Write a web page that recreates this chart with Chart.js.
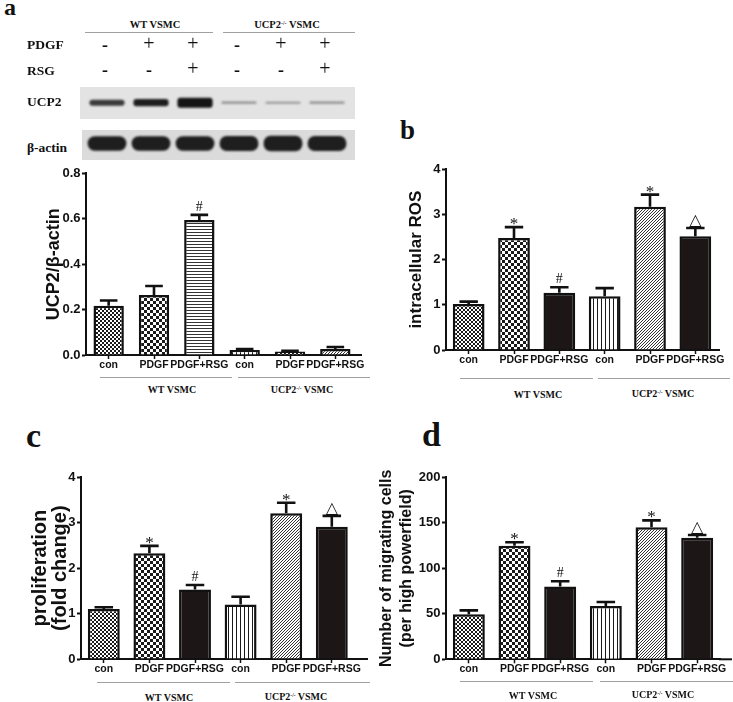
<!DOCTYPE html>
<html>
<head>
<meta charset="utf-8">
<script src="https://cdn.jsdelivr.net/npm/chart.js@4.4.0/dist/chart.umd.min.js"></script>
<style>
body { margin: 0; background: #fff; }
#fig { position: relative; width: 733px; height: 702px; overflow: hidden; background: #fff; }
#fig canvas { position: absolute; }
.t { position: absolute; white-space: nowrap; line-height: 1; color: #111; }
.serif { font-family: "Liberation Serif", "DejaVu Serif", serif; font-weight: bold; }
.plain { font-family: "Liberation Serif", "DejaVu Serif", serif; font-weight: normal; }
.hl { position: absolute; height: 1px; background: #a0a0a0; }
.box { position: absolute; }
sup { font-size: 0.55em; vertical-align: 0.6em; line-height: 0; }
</style>
</head>
<body>
<div id="fig">
  <div class="box" style="left:80px;top:87px;width:275px;height:32px;background:#e3e3e3"></div>
  <div class="box" style="left:82px;top:130px;width:273px;height:30px;background:#dbdbdb"></div>
  <canvas id="blot"></canvas>
  <canvas id="chartA"></canvas>
  <canvas id="chartB"></canvas>
  <canvas id="chartC"></canvas>
  <canvas id="chartD"></canvas>
</div>
<script>
// categories and groups
const categories = ['con', 'PDGF', 'PDGF+RSG', 'con', 'PDGF', 'PDGF+RSG'];
const groups = ['WT VSMC', 'UCP2-/- VSMC'];
const pdgfRow = ['-', '+', '+', '-', '+', '+'];
const rsgRow = ['-', '-', '+', '-', '-', '+'];

// western blot band strength (0..1)
const ucp2Band = [0.55, 0.7, 1.0, 0.13, 0.1, 0.13];
const actinBand = [0.95, 0.95, 0.95, 1.0, 1.05, 1.0];

// a: UCP2/beta-actin
const ucp2Ratio = [0.217, 0.264, 0.594, 0.022, 0.015, 0.026];
const ucp2RatioErr = [0.023, 0.040, 0.023, 0.004, 0.003, 0.009];
// b: intracellular ROS
const rosValues = [1.02, 2.48, 1.27, 1.19, 3.17, 2.52];
const rosErr = [0.05, 0.24, 0.12, 0.18, 0.27, 0.18];
// c: proliferation
const prolifValues = [1.10, 2.33, 1.53, 1.20, 3.21, 2.91];
const prolifErr = [0.04, 0.16, 0.10, 0.17, 0.23, 0.24];
// d: migrating cells
const migrationValues = [49.5, 124.9, 79.9, 58.6, 145, 133.7];
const migrationErr = [4.3, 3.7, 5.8, 4.4, 7.7, 2.9];

const marksA = ['', '', '#', '', '', ''];
const marksBCD = ['', '*', '#', '', '*', '\u25B3'];

const SANS = '"Liberation Sans", Arial, sans-serif';
const fig = document.getElementById('fig');

function place(html, x, base, size, align, cls) {
    const s = document.createElement('span');
    s.className = 't ' + (cls || 'serif');
    s.innerHTML = html;
    s.style.fontSize = size + 'px';
    s.style.top = (base - 0.84 * size) + 'px';
    s.style.left = x + 'px';
    if (align === 'center') s.style.transform = 'translateX(-50%)';
    fig.appendChild(s);
}

function hline(x1, x2, y) {
    const d = document.createElement('div');
    d.className = 'hl';
    d.style.left = x1 + 'px';
    d.style.top = y + 'px';
    d.style.width = (x2 - x1) + 'px';
    fig.appendChild(d);
}

function groupHtml(g) {
    return g.replace('-/-', '<sup>-/-</sup>');
}

function setupCanvas(id, box) {
    const cv = document.getElementById(id);
    cv.width = box.w;
    cv.height = box.h;
    cv.style.left = box.x + 'px';
    cv.style.top = box.y + 'px';
    return cv;
}

// fill patterns
function makePattern(size, draw) {
    const c = document.createElement('canvas');
    c.width = size;
    c.height = size;
    const g = c.getContext('2d');
    g.fillStyle = '#fff';
    g.fillRect(0, 0, size, size);
    g.fillStyle = '#1a1a1a';
    draw(g);
    return g.createPattern(c, 'repeat');
}
const fineCheck = makePattern(4, g => { g.fillRect(0, 0, 2, 2); g.fillRect(2, 2, 2, 2); });
const coarseCheck = makePattern(6, g => { g.fillRect(0, 0, 3, 3); g.fillRect(3, 3, 3, 3); });
const hLines = makePattern(3, g => { g.fillStyle = '#333'; g.fillRect(0, 0, 3, 1); });
const vLines = makePattern(4, g => { g.fillRect(0, 0, 1, 4); });
const diag = makePattern(3, g => { g.fillStyle = '#333'; g.fillRect(2, 0, 1, 1); g.fillRect(1, 1, 1, 1); g.fillRect(0, 2, 1, 1); });
const solid = '#1c1616';

const markStyle = {
    '*': { font: '17px "Liberation Serif", serif', dy: 2 },
    '#': { font: '14px "Liberation Serif", serif', dy: -4 },
    '\u25B3': { font: '16px "DejaVu Sans", sans-serif', dy: -3 }
};

// error bars, significance marks and the long x axis line
const errorBars = {
    id: 'errorBars',
    afterDatasetsDraw(chart, args, opts) {
        const ds = chart.data.datasets[0];
        const meta = chart.getDatasetMeta(0);
        const y = chart.scales.y;
        const ctx = chart.ctx;
        ctx.save();
        ctx.strokeStyle = '#111';
        ctx.fillStyle = '#111';
        ctx.lineWidth = 2.6;
        meta.data.forEach((bar, i) => {
            const top = y.getPixelForValue(ds.data[i] + opts.err[i]);
            const half = bar.width * 0.29;
            ctx.beginPath();
            ctx.moveTo(bar.x, bar.y);
            ctx.lineTo(bar.x, top);
            ctx.moveTo(bar.x - half, top);
            ctx.lineTo(bar.x + half, top);
            ctx.stroke();
            const m = opts.marks[i];
            if (m) {
                ctx.font = markStyle[m].font;
                ctx.textAlign = 'center';
                ctx.textBaseline = 'alphabetic';
                ctx.fillText(m, bar.x, top + markStyle[m].dy);
            }
        });
        const a = chart.chartArea;
        ctx.lineWidth = 2;
        ctx.beginPath();
        ctx.moveTo(a.right - 1, a.bottom);
        ctx.lineTo(opts.axisTo, a.bottom);
        ctx.stroke();
        ctx.restore();
    }
};

function barPanel(id, box, area, cfg) {
    const cv = setupCanvas(id, box);
    return new Chart(cv, {
        type: 'bar',
        data: {
            labels: categories,
            datasets: [{
                data: cfg.values,
                backgroundColor: cfg.fills,
                borderColor: '#111',
                borderWidth: 2.5,
                barPercentage: cfg.barPct,
                categoryPercentage: 1
            }]
        },
        options: {
            responsive: false,
            animation: false,
            events: [],
            layout: { padding: { top: area.t - box.y, right: box.x + box.w - area.r, left: 0, bottom: 0 } },
            plugins: {
                legend: { display: false },
                tooltip: { enabled: false },
                errorBars: { err: cfg.err, marks: cfg.marks, axisTo: cfg.axisTo - box.x }
            },
            scales: {
                x: {
                    z: 1,
                    grid: { display: true, drawOnChartArea: false, offset: false, tickLength: 4, tickWidth: 1.5, color: '#111' },
                    border: { display: true, width: 2, color: '#111' },
                    ticks: { font: { family: SANS, size: 10.5, weight: 'bold' }, color: '#111', padding: 0, maxRotation: 0, autoSkip: false },
                    afterFit: s => { s.height = box.y + box.h - area.b; }
                },
                y: {
                    min: 0,
                    max: cfg.max,
                    ticks: {
                        stepSize: cfg.step,
                        font: { family: SANS, size: 13, weight: 'bold' },
                        color: '#111',
                        padding: 1.5,
                        callback: v => cfg.fmt(v)
                    },
                    grid: { drawOnChartArea: false, tickLength: 4, tickWidth: 2, color: '#111' },
                    border: { width: 2, color: '#111' },
                    title: {
                        display: true,
                        text: cfg.title,
                        color: '#111',
                        font: { family: SANS, size: cfg.titleSize, weight: 'bold', lineHeight: cfg.titleLH },
                        padding: { top: cfg.titlePad, bottom: 0 }
                    },
                    afterFit: s => { s.width = area.l - box.x; }
                }
            }
        },
        plugins: [errorBars]
    });
}

// ---- western blot ----
const blotBox = { x: 80, y: 87, w: 275, h: 73 };
const ucp2Row = 0.785, actinRow = 0.226;
const blurBands = {
    id: 'blurBands',
    beforeDatasetsDraw(chart) { chart.ctx.save(); chart.ctx.filter = 'blur(1.1px)'; },
    afterDatasetsDraw(chart) { chart.ctx.restore(); }
};
const blot = new Chart(setupCanvas('blot', blotBox), {
    type: 'bar',
    data: {
        labels: categories,
        datasets: [{
            data: ucp2Band.map(v => { const h = (1 + 9 * v) / blotBox.h / 2; return [ucp2Row - h, ucp2Row + h]; }),
            backgroundColor: ucp2Band.map(v => { const l = Math.round(215 - 195 * Math.min(1, 0.25 + v)); return `rgb(${l},${l},${l})`; }),
            barPercentage: 0.8,
            categoryPercentage: 1,
            borderRadius: 3,
            borderSkipped: false,
            grouped: false
        }, {
            data: actinBand.map(v => { const h = (5 + 10 * v) / blotBox.h / 2; return [actinRow - h, actinRow + h]; }),
            backgroundColor: '#1e1e1e',
            barPercentage: 0.88,
            categoryPercentage: 1,
            borderRadius: 7,
            borderSkipped: false,
            grouped: false
        }]
    },
    options: {
        responsive: false,
        animation: false,
        events: [],
        layout: { padding: { left: 5, right: 6, top: 0, bottom: 0 } },
        plugins: { legend: { display: false }, tooltip: { enabled: false } },
        scales: {
            x: { display: false },
            y: { display: false, min: 0, max: 1 }
        }
    },
    plugins: [blurBands]
});

// blot header texts
place('a', 4, 15, 24, 'left');
place(groupHtml(groups[0]), 155, 29, 10.5, 'center');
place(groupHtml(groups[1]), 287, 29, 10.5, 'center');
hline(85, 213, 32);
hline(223, 355, 32);
place('PDGF', 27, 49, 13.5, 'left');
place('RSG', 27, 75, 13.5, 'left');
place('UCP2', 27, 106, 13.5, 'left');
place('\u03B2-actin', 27, 152, 13.5, 'left');
const blotX = blot.scales.x;
pdgfRow.forEach((s, i) => {
    const x = blotBox.x + blotX.getPixelForValue(i) - 2;
    if (s === '+') place('+', x, 49.7, 20, 'center', 'plain');
    else place('-', x, 51, 18, 'center');
});
rsgRow.forEach((s, i) => {
    const x = blotBox.x + blotX.getPixelForValue(i) - 2;
    if (s === '+') place('+', x, 75, 20, 'center', 'plain');
    else place('-', x, 76, 18, 'center');
});

// ---- panel a ----
barPanel('chartA', { x: 0, y: 160, w: 372, h: 215 }, { l: 86, t: 173.3, r: 358, b: 355 }, {
    values: ucp2Ratio, err: ucp2RatioErr, marks: marksA,
    fills: [fineCheck, coarseCheck, hLines, vLines, fineCheck, diag],
    max: 0.8, step: 0.2, fmt: v => v.toFixed(1), barPct: 0.67,
    title: 'UCP2/\u03B2-actin', titleSize: 18, titleLH: 1.2, titlePad: 43, axisTo: 362
});
hline(100, 232, 377);
hline(238, 370, 377);
place(groupHtml(groups[0]), 172, 393, 10, 'center');
place(groupHtml(groups[1]), 302, 393, 10, 'center');

// ---- panel b ----
place('b', 400, 140, 27, 'left');
barPanel('chartB', { x: 385, y: 155, w: 348, h: 220 }, { l: 446, t: 169.3, r: 718, b: 350 }, {
    values: rosValues, err: rosErr, marks: marksBCD,
    fills: [fineCheck, coarseCheck, solid, vLines, diag, solid],
    max: 4, step: 1, fmt: v => String(v), barPct: 0.7,
    title: 'intracellular ROS', titleSize: 17, titleLH: 1.2, titlePad: 21, axisTo: 720
});
hline(460, 593, 378);
hline(598, 730, 378);
place(groupHtml(groups[0]), 538, 398, 10, 'center');
place(groupHtml(groups[1]), 663, 397, 10, 'center');

// ---- panel c ----
place('c', 26, 448, 34, 'left');
barPanel('chartC', { x: 0, y: 465, w: 372, h: 215 }, { l: 81, t: 477.3, r: 354.6, b: 659 }, {
    values: prolifValues, err: prolifErr, marks: marksBCD,
    fills: [fineCheck, coarseCheck, solid, vLines, diag, solid],
    max: 4, step: 1, fmt: v => String(v), barPct: 0.7,
    title: ['proliferation', '(fold change)'], titleSize: 20, titleLH: 1.0, titlePad: 30, axisTo: 368
});
hline(97, 230, 682);
hline(235, 370, 682);
place(groupHtml(groups[0]), 169, 701, 10, 'center');
place(groupHtml(groups[1]), 296, 700, 10, 'center');

// ---- panel d ----
place('d', 422, 447, 34, 'left');
barPanel('chartD', { x: 365, y: 465, w: 368, h: 215 }, { l: 446, t: 477.3, r: 720, b: 659.3 }, {
    values: migrationValues, err: migrationErr, marks: marksBCD,
    fills: [fineCheck, coarseCheck, solid, vLines, diag, solid],
    max: 200, step: 50, fmt: v => String(v), barPct: 0.7,
    title: ['Number of migrating cells', '(per high powerfield)'], titleSize: 16, titleLH: 1.25, titlePad: 12, axisTo: 732
});
hline(460, 593, 681);
hline(600, 733, 681);
place(groupHtml(groups[0]), 533, 699, 10, 'center');
place(groupHtml(groups[1]), 663, 698, 10, 'center');
</script>
</body>
</html>
